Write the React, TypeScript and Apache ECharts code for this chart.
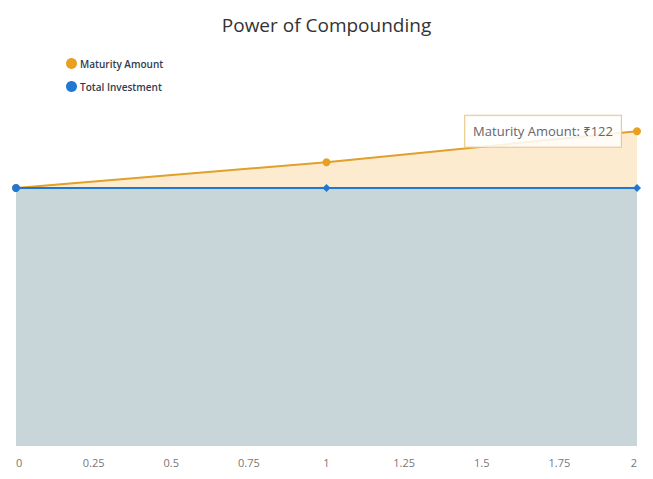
import React, { useEffect, useRef } from "react";
import * as echarts from "echarts";

const years = [0, 1, 2];
const maturityAmount = [100, 110, 122];
const totalInvestment = [100, 100, 100];
const xTicks = [0, 0.25, 0.5, 0.75, 1, 1.25, 1.5, 1.75, 2];

export default function App() {
  const ref = useRef<HTMLDivElement>(null);
  useEffect(() => {
    const chart = echarts.init(ref.current!, null, { renderer: "svg" });
    const font = "'Open Sans', 'Noto Sans', sans-serif";
    chart.setOption({
      animation: false,
      textStyle: { fontFamily: font },
      title: {
        text: "Power of Compounding",
        left: "center",
        top: 10,
        textStyle: { fontFamily: font, fontSize: 19, fontWeight: "normal", color: "#333333" },
      },
      legend: {
        orient: "vertical",
        left: 61,
        top: 53,
        itemGap: 12,
        itemWidth: 11,
        itemHeight: 11,
        icon: "circle",
        textStyle: { fontFamily: font, fontSize: 10, fontWeight: 600, color: "#333a4d", padding: [0, 0, 0, -2] },
        data: ["Maturity Amount", "Total Investment"],
      },
      grid: { left: 16, right: 16, top: 59, bottom: 33 },
      xAxis: {
        type: "value",
        min: 0,
        max: 2,
        interval: 0.25,
        axisLine: { show: false },
        axisTick: { show: false },
        splitLine: { show: false },
        axisLabel: {
          color: "#777777",
          fontSize: 11,
          margin: 11,
          alignMinLabel: "left",
          alignMaxLabel: "right",
          formatter: (v: number) => (xTicks.includes(v) ? String(v) : ""),
        },
      },
      yAxis: {
        type: "value",
        min: 0,
        max: 150,
        show: false,
        splitLine: { show: false },
      },
      series: [
        {
          name: "Maturity Amount",
          type: "line",
          data: years.map((y, i) => [y, maturityAmount[i]]),
          symbol: "circle",
          symbolSize: 8,
          showSymbol: true,
          itemStyle: { color: "#e8a01e" },
          lineStyle: { color: "#e0a02a", width: 2 },
          areaStyle: { color: "#fdebd0", opacity: 1 },
          z: 2,
          markPoint: {
            symbol: "rect",
            symbolSize: 0.1,
            data: [
              {
                coord: [years[2], maturityAmount[2]],
                value: maturityAmount[2],
              },
            ],
            label: {
              show: true,
              position: "left",
              distance: 16,
              formatter: "Maturity Amount: ₹" + maturityAmount[2],
              backgroundColor: "rgba(255,255,255,0.85)",
              borderColor: "#e6c98a",
              borderWidth: 1,
              padding: [9, 8, 9, 8],
              color: "#666666",
              fontSize: 13,
              fontFamily: font,
            },
          },
        },
        {
          name: "Total Investment",
          type: "line",
          data: years.map((y, i) =>
            i === 0
              ? { value: [y, totalInvestment[i]], symbol: "circle", symbolSize: 8 }
              : [y, totalInvestment[i]]
          ),
          symbol: "diamond",
          symbolSize: 8,
          showSymbol: true,
          itemStyle: { color: "#1f78d1" },
          lineStyle: { color: "#1f78d1", width: 2 },
          areaStyle: { color: "#c9d6d9", opacity: 1 },
          z: 3,
        },
      ],
    });
    return () => chart.dispose();
  }, []);
  return <div ref={ref} style={{ width: 653, height: 479, position: "absolute", left: 0, top: 0 }} />;
}
